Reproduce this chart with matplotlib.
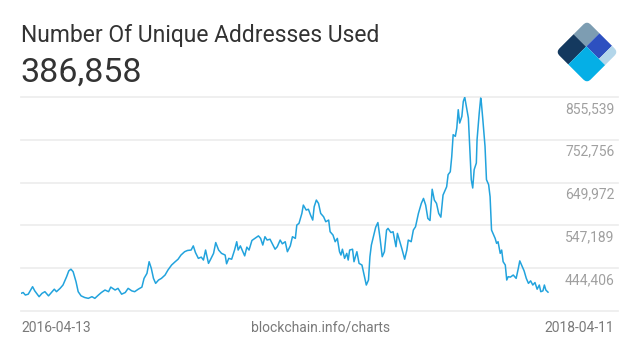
import pandas as pd
import numpy as np
import matplotlib
matplotlib.use('Agg')
import matplotlib.pyplot as plt
from matplotlib.patches import Rectangle, FancyBboxPatch
from matplotlib.transforms import Affine2D

plt.rcParams['font.family'] = ['Roboto', 'DejaVu Sans']

TITLE = 'Number Of Unique Addresses Used'
LATEST = '386,858'
START_DATE = '2016-04-13'
END_DATE = '2018-04-11'
SOURCE = 'blockchain.info/charts'

# days since 2016-04-13 and unique addresses (thousands)
days = [0, 3, 6, 10, 16, 19, 25, 29, 33, 38, 42, 46, 49, 54, 58, 63, 66, 69, 72, 76,
        79, 83, 88, 93, 98, 102, 107, 111, 116, 121, 124, 130, 134, 139, 144, 148, 153, 157, 162, 167,
        170, 174, 177, 180, 183, 186, 190, 194, 199, 203, 208, 213, 217, 221, 226, 230, 235, 238, 241, 245,
        249, 252, 255, 259, 262, 266, 269, 273, 277, 282, 284, 287, 291, 295, 298, 300, 303, 307, 309, 312,
        315, 319, 323, 328, 331, 334, 337, 340, 344, 348, 351, 354, 358, 361, 365, 368, 372, 375, 379, 381,
        384, 388, 390, 394, 397, 400, 403, 405, 408, 411, 414, 418, 421, 425, 427, 431, 434, 437, 440, 442,
        444, 447, 450, 452, 454, 458, 460, 464, 467, 471, 474, 477, 480, 482, 484, 488, 490, 493, 496, 499,
        502, 505, 507, 511, 514, 518, 520, 524, 526, 530, 533, 535, 539, 542, 545, 549, 553, 556, 559, 562,
        565, 568, 571, 574, 577, 580, 583, 586, 588, 590, 593, 595, 597, 600, 602, 604, 606, 609, 611, 613,
        616, 618, 620, 622, 624, 626, 629, 630, 633, 635, 636, 638, 641, 643, 646, 648, 650, 653, 655, 657,
        659, 662, 664, 666, 669, 671, 673, 676, 680, 684, 687, 689, 692, 695, 698, 701, 704, 707, 710, 713,
        716, 718, 721, 723, 725, 728]
addresses = [384, 386, 380, 382, 400, 390, 376, 384, 388, 378, 386, 394, 388, 396, 404, 424, 438, 442, 436, 412,
             388, 378, 374, 372, 376, 372, 380, 386, 392, 388, 399, 392, 396, 382, 386, 396, 390, 388, 394, 399,
             420, 432, 460, 444, 420, 408, 416, 420, 428, 440, 452, 460, 466, 476, 484, 487, 488, 498, 482, 468,
             471, 464, 488, 456, 466, 480, 506, 488, 480, 476, 455, 468, 466, 488, 508, 488, 498, 482, 474, 495,
             488, 511, 516, 522, 516, 500, 520, 512, 514, 500, 490, 496, 512, 503, 508, 484, 498, 520, 516, 548,
             552, 576, 596, 584, 586, 572, 560, 592, 608, 600, 576, 568, 556, 560, 532, 524, 508, 516, 484, 476,
             490, 468, 480, 464, 488, 490, 460, 484, 456, 452, 428, 404, 416, 472, 500, 528, 543, 554, 516, 472,
             484, 536, 540, 530, 532, 496, 528, 504, 492, 466, 488, 512, 508, 536, 544, 576, 600, 612, 596, 564,
             559, 634, 608, 600, 576, 567, 620, 632, 640, 669, 676, 712, 765, 761, 781, 825, 793, 809, 845, 855,
             825, 805, 729, 657, 637, 681, 697, 753, 817, 853, 841, 801, 737, 657, 645, 616, 536, 524, 516, 504,
             508, 480, 488, 460, 452, 416, 424, 423, 428, 420, 444, 462, 450, 438, 420, 408, 414, 404, 410, 394,
             404, 388, 390, 404, 392, 386.858]

grid_values = [341623, 444406, 547189, 649972, 752756, 855539]
grid_labels = ['', '444,406', '547,189', '649,972', '752,756', '855,539']

LINE = '#22a3dd'
GRID = '#ececec'

dates = pd.Timestamp(START_DATE) + pd.to_timedelta(days, unit='D')
values = np.array(addresses) * 1000

fig = plt.figure(figsize=(6.4, 3.6), dpi=100)
fig.patch.set_facecolor('white')

ax = fig.add_axes([21 / 640, 49 / 360, 597 / 640, 214 / 360])
ax.plot(dates, values, color=LINE, lw=1.1, solid_joinstyle='round')
ax.set_ylim(grid_values[0], grid_values[-1])
t0 = pd.Timestamp(START_DATE)
t1 = pd.Timestamp(END_DATE)
ax.set_xlim(t0, t0 + (t1 - t0) * (597 / 527))
for v, lab in zip(grid_values, grid_labels):
    ax.axhline(v, color=GRID, lw=1.2, zorder=0, clip_on=False)
    if lab:
        ax.annotate(lab, xy=(1, v), xycoords=ax.get_yaxis_transform(),
                    xytext=(-2.5, -3.5), textcoords='offset points',
                    ha='right', va='top', fontsize=10, color='#a0a0a0')
ax.axis('off')

fig.text(21 / 640, 1 - 42.3 / 360, TITLE, fontsize=16.5, color='#333333', va='baseline')
fig.text(20 / 640, 1 - 81.7 / 360, LATEST, fontsize=24.5, color='#333333', va='baseline')

fig.text(21 / 640, 1 - 328 / 360, START_DATE, fontsize=10, color='#7a7a7a', va='center', ha='left')
fig.text(321 / 640, 1 - 328 / 360, SOURCE, fontsize=10, color='#7a7a7a', va='center', ha='center')
fig.text(614 / 640, 1 - 328 / 360, END_DATE, fontsize=10, color='#7a7a7a', va='center', ha='right')

# logo: rotated square split in blocks
lax = fig.add_axes([554 / 640, 1 - 85 / 360, 66 / 640, 66 / 360])
lax.set_xlim(-1.02, 1.02)
lax.set_ylim(-1.02, 1.02)
lax.axis('off')
h = 0.97
rot = Affine2D.from_values(h, -h, -h, -h, 0, h) + lax.transData
clip = FancyBboxPatch((0, 0), 1, 1, boxstyle='round,pad=0,rounding_size=0.13',
                      transform=rot, facecolor='none', edgecolor='none')
lax.add_patch(clip)
blocks = [((0, 0), 0.4, 0.43, '#7d9db2'),
          ((0, 0.43), 0.4, 0.57, '#14395f'),
          ((0.4, 0), 0.4, 0.42, '#2d50c0'),
          ((0.8, 0), 0.2, 0.42, '#b3d6ea'),
          ((0.4, 0.42), 0.6, 0.58, '#05afe6')]
for xy, w, hh, c in blocks:
    r = Rectangle(xy, w, hh, transform=rot, facecolor=c, edgecolor='none')
    lax.add_patch(r)
    r.set_clip_path(clip)

fig.savefig('out.png', dpi=100, facecolor='white')
